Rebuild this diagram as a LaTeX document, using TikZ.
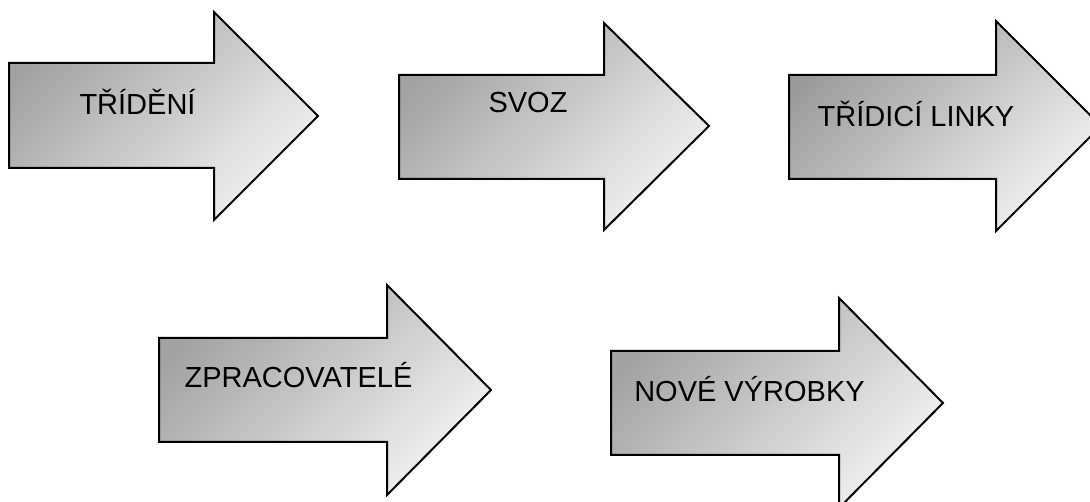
\documentclass[tikz,border=0pt]{standalone}
\usepackage{fontspec}
\setmainfont{Liberation Sans}
\definecolor{ardark}{RGB}{162,162,162}
\definecolor{ardarker}{RGB}{155,155,155}
\definecolor{arlight}{RGB}{242,242,242}
\begin{document}
\begin{tikzpicture}[x=1pt,y=-1pt,
  arrowshape/.style={draw=black, line width=2pt, line join=miter,
    top color=#1, bottom color=arlight, shading angle=45},
  arrowshape/.default=ardark,
  lbl/.style={anchor=base, inner sep=0pt, font=\fontsize{29}{34}\selectfont}]
\useasboundingbox (0,0) rectangle (1090,502);
\begin{scope}
\clip (0,0) rectangle (1090,502);
% arrow 1
\path[arrowshape] (9,63) -- (214,63) -- (214,12) -- (318,116) -- (214,220) -- (214,168) -- (9,168) -- cycle;
% arrow 2
\path[arrowshape] (399,75) -- (604,75) -- (604,23) -- (709,126) -- (604,230) -- (604,179) -- (399,179) -- cycle;
% arrow 3
\path[arrowshape=ardarker] (789,75) -- (996,75) -- (996,21) -- (1101,126) -- (996,231) -- (996,179) -- (789,179) -- cycle;
% arrow 4
\path[arrowshape] (159,338) -- (387,338) -- (387,285) -- (491,390) -- (387,495) -- (387,442) -- (159,442) -- cycle;
% arrow 5
\path[arrowshape] (611,351) -- (839,351) -- (839,298) -- (943,403) -- (839,508) -- (839,455) -- (611,455) -- cycle;
\end{scope}
\node[lbl] (t1) at (137.5,115) {TŘÍDĚNÍ};
\node[lbl] (t2) at (528,113) {SVOZ};
\node[lbl] (t3) at (916,127) {TŘÍDICÍ LINKY};
\node[lbl] (t4) at (298.5,388) {ZPRACOVATELÉ};
\node[lbl] (t5) at (749.5,402) {NOVÉ VÝROBKY};
\end{tikzpicture}
\end{document}
